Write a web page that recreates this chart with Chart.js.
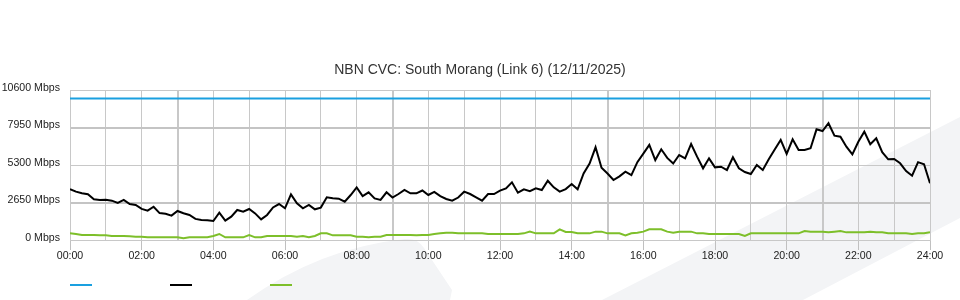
<!DOCTYPE html>
<html>
<head>
<meta charset="utf-8">
<script src="https://cdn.jsdelivr.net/npm/chart.js@4"></script>
<style>
  html, body { margin: 0; padding: 0; background: #ffffff; }
  canvas { display: block; }
</style>
</head>
<body>
<canvas id="c" width="960" height="300"></canvas>
<script>
// ---- data ----
const chartTitle = 'NBN CVC: South Morang (Link 6) (12/11/2025)';
const stepMinutes = 10;
const capacityTimes = [0, 1440];
const capacity = [10000, 10000];
const download = [
  3600, 3420, 3300, 3230, 2880, 2830,
  2850, 2780, 2620, 2830, 2540, 2480,
  2200, 2070, 2350, 1900, 1850, 1720,
  2050, 1890, 1770, 1490, 1410, 1390,
  1340, 1930, 1370, 1650, 2120, 2000,
  2190, 1880, 1460, 1770, 2300, 2540,
  2240, 3220, 2600, 2240, 2480, 2170,
  2290, 3015, 2950, 2920, 2710, 3180,
  3720, 3100, 3370, 2940, 2830, 3370,
  3000, 3250, 3535, 3300, 3300, 3500,
  3180, 3400, 3100, 2900, 2780, 3000,
  3415, 3250, 3015, 2780, 3250, 3250,
  3485, 3650, 4075, 3345, 3580, 3450,
  3650, 3535, 4190, 3720, 3415, 3600,
  3960, 3580, 4700, 5400, 6550, 5100,
  4700, 4240, 4500, 4830, 4590, 5500,
  6100, 6715, 5650, 6410, 5800, 5400,
  6005, 5770, 6785, 5890, 5065, 5770,
  5135, 5180, 4945, 5845, 5065, 4800,
  4665, 5300, 4945, 5700, 6400, 7070,
  6080, 7115, 6360, 6360, 6480, 7820,
  7700, 8250, 7370, 7300, 6595, 6055,
  6945, 7655, 6765, 7185, 6200, 5700,
  5725, 5420, 4875, 4545, 5500, 5350,
  4005
];
const upload = [
  470, 425, 353, 353, 353, 330,
  330, 283, 283, 283, 260, 235,
  235, 190, 190, 190, 190, 190,
  190, 120, 190, 190, 190, 190,
  283, 425, 190, 190, 190, 190,
  353, 190, 190, 283, 283, 283,
  283, 283, 235, 283, 190, 283,
  470, 470, 330, 330, 330, 330,
  235, 235, 200, 235, 235, 353,
  353, 353, 353, 353, 330, 353,
  353, 425, 470, 520, 520, 470,
  470, 470, 470, 470, 425, 425,
  425, 425, 425, 425, 470, 590,
  470, 470, 470, 470, 755, 565,
  565, 470, 470, 470, 590, 590,
  470, 470, 470, 330, 470, 520,
  590, 755, 755, 755, 590, 520,
  590, 590, 590, 470, 470, 425,
  425, 425, 425, 425, 425, 283,
  470, 470, 470, 470, 470, 470,
  470, 470, 470, 635, 590, 590,
  590, 540, 590, 635, 540, 540,
  540, 540, 590, 540, 540, 470,
  470, 470, 470, 420, 470, 470,
  540
];
const yTickValues = [0, 2650, 5300, 7950, 10600];
const yUnit = 'Mbps';
const xTickHours = [0,1,2,3,4,5,6,7,8,9,10,11,12,13,14,15,16,17,18,19,20,21,22,23,24];
const seriesColors = ['#1aa0e0', '#000000', '#7dbf2a'];

// ---- helpers ----
const toPoints = arr => arr.map((v, i) => ({ x: i * stepMinutes, y: v }));
const hhmm = m => String(Math.floor(m / 60)).padStart(2, '0') + ':00';
const FONT = '"Liberation Sans", Arial, sans-serif';

const watermark = {
  id: 'watermark',
  beforeDraw(chart) {
    const c = chart.ctx;
    c.save();
    c.fillStyle = '#f3f4f6';
    c.beginPath();
    c.moveTo(602, 300);
    c.lineTo(960, 117);
    c.lineTo(960, 218);
    c.lineTo(803, 300);
    c.closePath();
    c.fill();
    c.beginPath();
    c.moveTo(247, 300);
    c.quadraticCurveTo(320, 248, 405, 239);
    c.quadraticCurveTo(418, 238, 424, 248);
    c.lineTo(452, 290);
    c.lineTo(450, 300);
    c.closePath();
    c.fill();
    c.restore();
  }
};

const halfPixelX = v => (v / 60) % 6 === 3;
const halfPixelY = v => v === 2650 || v === 7950;

new Chart(document.getElementById('c'), {
  type: 'line',
  data: {
    datasets: [
      { data: capacityTimes.map((t, i) => ({ x: t, y: capacity[i] })), borderColor: seriesColors[0], backgroundColor: seriesColors[0], borderWidth: 2, pointRadius: 0, tension: 0 },
      { data: toPoints(download), borderColor: seriesColors[1], backgroundColor: seriesColors[1], borderWidth: 2, pointRadius: 0, tension: 0 },
      { data: toPoints(upload), borderColor: seriesColors[2], backgroundColor: seriesColors[2], borderWidth: 2, pointRadius: 0, tension: 0 }
    ]
  },
  options: {
    responsive: false,
    animation: false,
    layout: { padding: { left: 0, right: 0, top: 0, bottom: -1 } },
    plugins: {
      title: {
        display: true,
        text: chartTitle,
        color: '#333333',
        font: { family: FONT, size: 14, weight: 'normal' },
        padding: { top: 62, bottom: 11.2 }
      },
      legend: {
        display: true,
        position: 'bottom',
        align: 'start',
        fullSize: false,
        labels: {
          boxWidth: 22,
          boxHeight: 2,
          padding: 0,
          font: { family: FONT, size: 12 },
          generateLabels: chart => chart.data.datasets.map((ds, i) => ({
            text: '\u2003\u2003\u2003\u2003\u2003\u2003',
            fillStyle: ds.borderColor,
            strokeStyle: ds.borderColor,
            lineWidth: 0,
            hidden: false,
            datasetIndex: i
          }))
        }
      },
      tooltip: { enabled: false }
    },
    scales: {
      x: {
        type: 'linear',
        min: 0,
        max: 1440,
        afterBuildTicks: s => { s.ticks = xTickHours.map(h => ({ value: h * 60 })); },
        afterFit: s => { s.height = 39; },
        ticks: {
          autoSkip: false,
          maxRotation: 0,
          padding: 0,
          color: '#222222',
          font: { family: FONT, size: 10.6 },
          callback: v => (v % 120 === 0 ? hhmm(v) : '')
        },
        grid: {
          color: '#c8c8c8',
          lineWidth: ctx => (ctx.tick && halfPixelX(ctx.tick.value) ? 2 : 1),
          tickLength: 10,
          tickColor: ctx => (ctx.tick && ctx.tick.value % 120 === 0 ? '#c0c0c0' : 'rgba(0,0,0,0)'),
          tickWidth: 1
        },
        border: { display: true, color: '#c8c8c8', width: 1 }
      },
      y: {
        type: 'linear',
        min: 0,
        max: 10600,
        afterBuildTicks: s => { s.ticks = yTickValues.map(v => ({ value: v })); },
        afterFit: s => { s.width = 70; },
        ticks: {
          padding: 10,
          labelOffset: -2,
          color: '#222222',
          font: { family: FONT, size: 10.6 },
          callback: v => v + ' ' + yUnit
        },
        grid: {
          drawTicks: false,
          color: ctx => (ctx.tick && halfPixelY(ctx.tick.value) ? '#c4c4c4' : '#c8c8c8'),
          lineWidth: ctx => (ctx.tick && halfPixelY(ctx.tick.value) ? 2 : 1)
        },
        border: { display: true, color: '#c8c8c8', width: 1 }
      },
      yRight: {
        type: 'linear',
        position: 'right',
        display: true,
        afterFit: s => { s.width = 30; },
        ticks: { display: false },
        grid: { display: false, drawTicks: false },
        border: { display: false }
      }
    }
  },
  plugins: [watermark]
});
</script>
</body>
</html>
